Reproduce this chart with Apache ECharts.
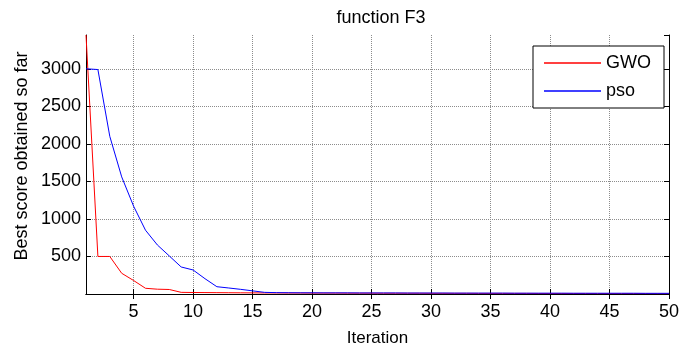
<!DOCTYPE html>
<html>
<head>
<meta charset="utf-8">
<script src="https://cdn.jsdelivr.net/npm/echarts@6/dist/echarts.min.js"></script>
<style>
html,body{margin:0;padding:0;background:#fff;}
#chart{width:683px;height:353px;}
</style>
</head>
<body>
<div id="chart"></div>
<script>
// Data
var iterations = [];
for (var k = 1; k <= 50; k++) iterations.push(String(k));
var gwo = [3450, 500, 500, 276, 180, 76, 64, 60, 22, 20,
           19, 18, 17, 16, 15, 14, 14, 13, 13, 12,
           12, 12, 11, 11, 11, 10, 10, 10, 10, 9,
           9, 9, 9, 8, 8, 8, 8, 8, 7, 7,
           7, 7, 7, 6, 6, 6, 6, 6, 5, 5];
var pso = [3000, 2990, 2100, 1560, 1170, 850, 653, 507, 360, 320,
           204, 97, 80, 62, 42, 22, 18, 17, 16, 16,
           15, 15, 15, 14, 14, 14, 14, 13, 13, 13,
           13, 12, 12, 12, 12, 12, 11, 11, 11, 11,
           11, 10, 10, 10, 10, 10, 10, 9, 9, 9];
var xTickLabels = ['5','10','15','20','25','30','35','40','45','50'];
var yTickLabels = ['500','1000','1500','2000','2500','3000'];

var FONT = "'Liberation Sans', Arial, Helvetica, sans-serif";
var chart = echarts.init(document.getElementById('chart'), null, {renderer: 'canvas'});

function isXTick(idx, val) { return xTickLabels.indexOf(String(val)) >= 0; }

var option = {
  animation: false,
  backgroundColor: '#fff',
  textStyle: {fontFamily: FONT},
  title: {
    text: 'function F3',
    left: 376, top: 4, textAlign: 'center',
    textStyle: {fontFamily: FONT, fontSize: 18, fontWeight: 'normal', color: '#000'}
  },
  grid: {left: 86, right: 14, top: 35, bottom: 59, containLabel: false},
  legend: {
    orient: 'vertical',
    right: 19, top: 46,
    padding: [8, 13, 8, 11],
    itemGap: 10,
    itemWidth: 57, itemHeight: 1.5,
    icon: 'rect',
    backgroundColor: '#fff',
    borderColor: '#000', borderWidth: 1,
    textStyle: {fontFamily: FONT, fontSize: 18, color: '#000', lineHeight: 18},
    data: ['GWO', 'pso']
  },
  xAxis: [{
    type: 'category', data: iterations, boundaryGap: false,
    name: 'Iteration', nameLocation: 'middle', nameGap: 36,
    nameTextStyle: {fontFamily: FONT, fontSize: 17, color: '#000'},
    axisLine: {lineStyle: {color: '#000', width: 1}},
    axisTick: {inside: true, length: 5, interval: isXTick, lineStyle: {color: '#000'}},
    axisLabel: {interval: isXTick, margin: 9, fontFamily: FONT, fontSize: 18, color: '#000'},
    splitLine: {show: true, interval: function (idx, val) { return isXTick(idx, val) && val !== '50'; },
      lineStyle: {color: '#8c8c8c', type: [1, 1], width: 1}}
  }, {
    type: 'category', data: iterations, boundaryGap: false, position: 'top',
    axisLine: {lineStyle: {color: '#000', width: 1}},
    axisTick: {inside: true, length: 5, interval: isXTick, lineStyle: {color: '#000'}},
    axisLabel: {show: false},
    splitLine: {show: false}
  }],
  yAxis: [{
    type: 'value', min: 0, max: 3450, interval: 500,
    axisLine: {show: true, lineStyle: {color: '#000', width: 1}},
    axisTick: {show: true, inside: true, length: 5, lineStyle: {color: '#000'}},
    axisLabel: {
      margin: 5, fontFamily: FONT, fontSize: 18, color: '#000', showMaxLabel: false,
      formatter: function (v) { var s = String(v); return yTickLabels.indexOf(s) >= 0 ? s : ''; }
    },
    splitLine: {show: true, showMinLine: false, showMaxLine: false,
      lineStyle: {color: '#8c8c8c', type: [1, 1], width: 1}}
  }, {
    type: 'value', min: 0, max: 3450, interval: 500, position: 'right',
    axisLine: {show: true, lineStyle: {color: '#000', width: 1}},
    axisTick: {show: true, inside: true, length: 5, lineStyle: {color: '#000'}},
    axisLabel: {show: false},
    splitLine: {show: false}
  }],
  graphic: [{
    type: 'text',
    x: 22, y: 156, rotation: Math.PI / 2,
    style: {
      text: 'Best score obtained so far',
      fontFamily: FONT, fontSize: 18, fill: '#000',
      textAlign: 'center', textVerticalAlign: 'middle'
    }
  }],
  series: [{
    name: 'GWO', type: 'line', data: gwo, xAxisIndex: 0, yAxisIndex: 0,
    symbol: 'none', color: '#ff0000',
    lineStyle: {color: '#ff0000', width: 1}
  }, {
    name: 'pso', type: 'line', data: pso, xAxisIndex: 0, yAxisIndex: 0,
    symbol: 'none', color: '#0000ff',
    lineStyle: {color: '#0000ff', width: 1}
  }]
};
chart.setOption(option);
</script>
</body>
</html>
